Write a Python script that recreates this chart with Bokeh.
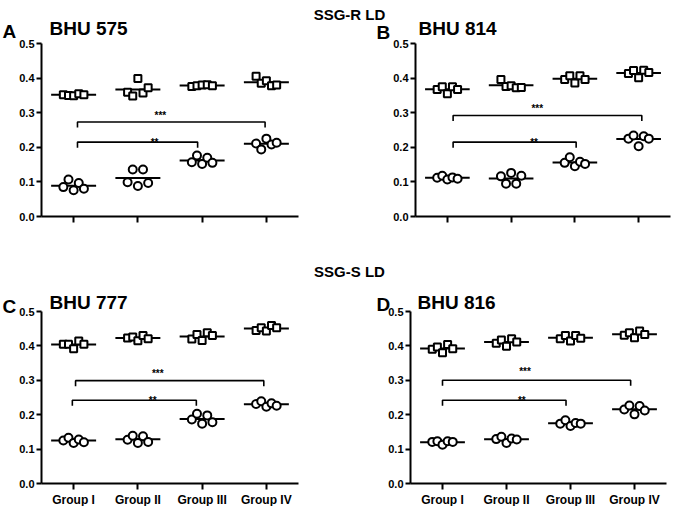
import numpy as np
from bokeh.plotting import figure
from bokeh.models import Range1d, FixedTicker, Label, NumeralTickFormatter, LinearAxis
from bokeh.embed import file_html
from bokeh.resources import INLINE

groups = ["Group I", "Group II", "Group III", "Group IV"]
y_ticks = [0.0, 0.1, 0.2, 0.3, 0.4, 0.5]
jitter = [-0.16, -0.08, 0.0, 0.08, 0.16]

# Panel A - BHU 575 (SSG-R LD)
a_squares = [[0.352, 0.350, 0.349, 0.355, 0.352],
             [0.359, 0.348, 0.399, 0.357, 0.372],
             [0.376, 0.378, 0.380, 0.381, 0.378],
             [0.405, 0.385, 0.392, 0.378, 0.380]]
a_circles = [[0.085, 0.107, 0.076, 0.097, 0.080],
             [0.099, 0.136, 0.088, 0.136, 0.097],
             [0.157, 0.176, 0.152, 0.170, 0.155],
             [0.211, 0.194, 0.225, 0.208, 0.213]]
# Panel B - BHU 814 (SSG-R LD)
b_squares = [[0.367, 0.375, 0.355, 0.375, 0.367],
             [0.396, 0.376, 0.378, 0.372, 0.373],
             [0.396, 0.407, 0.386, 0.407, 0.396],
             [0.413, 0.422, 0.401, 0.423, 0.416]]
b_circles = [[0.112, 0.118, 0.107, 0.113, 0.109],
             [0.116, 0.095, 0.126, 0.095, 0.118],
             [0.155, 0.171, 0.145, 0.158, 0.152],
             [0.225, 0.234, 0.203, 0.232, 0.225]]
# Panel C - BHU 777 (SSG-S LD)
c_squares = [[0.405, 0.405, 0.392, 0.414, 0.405],
             [0.423, 0.426, 0.415, 0.430, 0.421],
             [0.420, 0.433, 0.416, 0.438, 0.430],
             [0.445, 0.453, 0.443, 0.459, 0.453]]
c_circles = [[0.125, 0.133, 0.118, 0.128, 0.120],
             [0.127, 0.139, 0.118, 0.137, 0.121],
             [0.186, 0.203, 0.174, 0.198, 0.178],
             [0.231, 0.239, 0.223, 0.233, 0.226]]
# Panel D - BHU 816 (SSG-S LD)
d_squares = [[0.390, 0.397, 0.380, 0.404, 0.392],
             [0.408, 0.417, 0.399, 0.421, 0.411],
             [0.421, 0.430, 0.414, 0.430, 0.422],
             [0.431, 0.438, 0.424, 0.443, 0.433]]
d_circles = [[0.121, 0.123, 0.113, 0.123, 0.121],
             [0.129, 0.136, 0.118, 0.131, 0.128],
             [0.174, 0.184, 0.167, 0.176, 0.174],
             [0.215, 0.227, 0.201, 0.225, 0.212]]

# significance brackets: (x start, x end, y, stars, star x, star y centre)
a_brackets = [(1.06, 3.98, 0.273, "***", 2.35, 0.309), (1.06, 2.93, 0.215, "**", 2.26, 0.231)]
b_brackets = [(1.09, 4.05, 0.292, "***", 2.41, 0.329), (1.09, 3.02, 0.215, "**", 2.36, 0.230)]
c_brackets = [(1.03, 3.96, 0.299, "***", 2.31, 0.336), (0.98, 2.91, 0.242, "**", 2.23, 0.257)]
d_brackets = [(1.00, 3.94, 0.300, "***", 2.29, 0.341), (1.00, 2.93, 0.242, "**", 2.24, 0.257)]

FONT = "Liberation Sans"
W, H = 677, 507

p = figure(width=W, height=H, x_range=Range1d(0, W), y_range=Range1d(H, 0),
           x_axis_type=None, y_axis_type=None, output_backend="svg",
           toolbar_location=None, min_border=0, margin=(-1, -1, -1, -1))
p.outline_line_color = None
p.background_fill_color = "white"
p.border_fill_color = "white"


def style_axis(ax):
    ax.axis_line_width = 2
    ax.axis_line_color = "black"
    ax.major_tick_line_width = 2
    ax.major_tick_line_color = "black"
    ax.minor_tick_line_color = None
    ax.major_tick_in = 0
    ax.major_label_text_font = FONT
    ax.major_label_text_font_style = "bold"
    ax.major_label_text_color = "black"


def panel(name, box, squares, circles, brackets, show_labels):
    fx0, fx1, fyt, fyb = box  # frame box in canvas pixels
    ux = (fx1 - fx0) / 4.0
    uy = (fyb - fyt) / 0.5
    xn, yn = "x" + name, "y" + name
    p.extra_x_ranges[xn] = Range1d(0.5 + (0 - fx0) / ux, 0.5 + (W - fx0) / ux)
    p.extra_y_ranges[yn] = Range1d((fyb - H) / uy, fyb / uy)

    yax = LinearAxis(x_range_name=xn, y_range_name=yn, fixed_location=0.5, bounds=(0, 0.5),
                     ticker=FixedTicker(ticks=y_ticks), formatter=NumeralTickFormatter(format="0.0"))
    style_axis(yax)
    yax.major_tick_out = 5
    yax.major_label_standoff = 2
    yax.major_label_text_font_size = "11px"
    p.add_layout(yax, "left")

    xax = LinearAxis(x_range_name=xn, y_range_name=yn, fixed_location=0, bounds=(0.5, 4.5),
                     ticker=FixedTicker(ticks=[1, 2, 3, 4]))
    style_axis(xax)
    xax.major_tick_out = 6
    xax.major_label_standoff = 3
    xax.major_label_text_font_size = "12px"
    if show_labels:
        xax.major_label_overrides = {i + 1: g for i, g in enumerate(groups)}
    else:
        xax.major_label_overrides = {i + 1: "" for i in range(4)}
    p.add_layout(xax, "below")

    for i in range(4):
        xs = [i + 1 + j for j in jitter]
        for vals, marker, size in ((squares[i], "square", 7), (circles[i], "circle", 8)):
            m = float(np.mean(vals))
            p.segment(x0=[i + 1 - 0.35], x1=[i + 1 + 0.35], y0=[m], y1=[m],
                      line_color="black", line_width=2, x_range_name=xn, y_range_name=yn)
            p.scatter(x=xs, y=vals, marker=marker, size=size, fill_color="white",
                      line_color="black", line_width=2, x_range_name=xn, y_range_name=yn)

    for x0, x1, y, stars, sx, sy in brackets:
        p.line(x=[x0, x0, x1, x1], y=[y - 0.016, y, y, y - 0.016], line_color="black",
               line_width=1.6, x_range_name=xn, y_range_name=yn)
        p.add_layout(Label(x=sx, y=sy - 0.016, text=stars, text_font=FONT, text_font_style="bold",
                           text_font_size="10px", text_align="center", text_baseline="alphabetic",
                           text_color="black", x_range_name=xn, y_range_name=yn))


panel("a", (42, 299, 44, 217), a_squares, a_circles, a_brackets, False)
panel("b", (416, 671, 44, 217), b_squares, b_circles, b_brackets, False)
panel("c", (42, 299, 312, 484), c_squares, c_circles, c_brackets, True)
panel("d", (411, 667, 312, 484), d_squares, d_circles, d_brackets, True)


def add_text(px, py, text, size, align="left"):
    p.add_layout(Label(x=px, y=py, text=text, text_font=FONT, text_font_style="bold",
                       text_font_size=size, text_align=align, text_baseline="alphabetic",
                       text_color="black"))


add_text(3, 32, "A", "19px")
add_text(50, 29, "BHU 575", "19px")
add_text(377, 33, "B", "19px")
add_text(419, 29, "BHU 814", "19px")
add_text(350, 15, "SSG-R LD", "15px", align="center")
add_text(3, 307, "C", "19px")
add_text(50, 303, "BHU 777", "19px")
add_text(377, 305, "D", "19px")
add_text(418, 303, "BHU 816", "19px")
add_text(350, 272, "SSG-S LD", "15px", align="center")

open("out.html", "w").write(file_html(p, INLINE))
